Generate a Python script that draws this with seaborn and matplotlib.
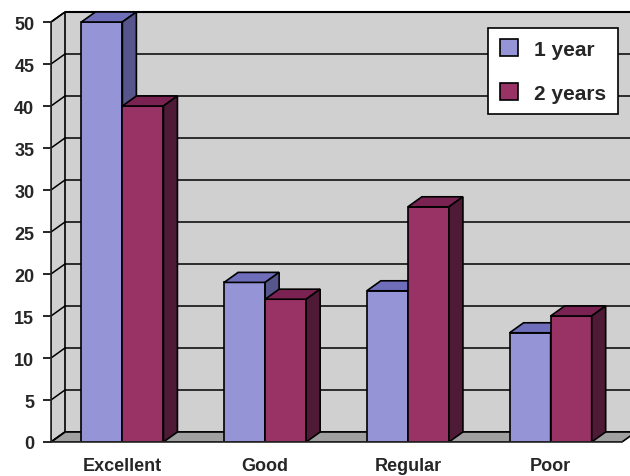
import pandas as pd
import numpy as np
import matplotlib
matplotlib.use("Agg")
import matplotlib.pyplot as plt
from matplotlib.patches import Polygon
import seaborn as sns

categorias = ["Excellent", "Good", "Regular", "Poor"]
series = ["1 year", "2 years"]
um_ano = [50, 19, 18, 13]
dois_anos = [40, 17, 28, 15]

df = pd.DataFrame({
    "categoria": categorias * 2,
    "serie": [series[0]] * 4 + [series[1]] * 4,
    "valor": um_ano + dois_anos,
})

sns.set_style("white")
plt.rcParams["font.family"] = ["Liberation Sans", "DejaVu Sans"]
plt.rcParams["font.weight"] = "bold"

fig = plt.figure(figsize=(6.3, 4.77), dpi=100)
# front plane 51..622 px, 0 at y=443, 50 at y=24; back wall shifted by 14 px / 10 px
px_cat = (622 - 51) / 4
px_val = (443 - 24) / 50
dx = 14 / px_cat
dy = 10 / px_val
ax = fig.add_axes([51 / 630, 34 / 477, (636 - 51) / 630, (443 - 13) / 477])

frente = ["#9494D6", "#993366"]
topo = ["#6E6EBA", "#7A2352"]
lado = ["#56568C", "#4E1A36"]

# paredes
x0, x1, ymax = -0.5, 3.5, 50
ax.add_patch(Polygon([(x0 + dx, dy), (x1 + dx, dy), (x1 + dx, ymax + dy), (x0 + dx, ymax + dy)],
                     closed=True, facecolor="#D0D0D0", edgecolor="none", zorder=0))
ax.add_patch(Polygon([(x0, 0), (x0 + dx, dy), (x0 + dx, ymax + dy), (x0, ymax)],
                     closed=True, facecolor="#D0D0D0", edgecolor="black", lw=1.2, zorder=0.5))
ax.add_patch(Polygon([(x0, 0), (x1, 0), (x1 + dx, dy), (x0 + dx, dy)],
                     closed=True, facecolor="#A0A0A0", edgecolor="black", lw=1.2, zorder=0.6))
for v in range(0, 51, 5):
    ax.plot([x0 + dx, x1 + dx], [v + dy, v + dy], color="black", lw=1.1, zorder=0.4)
    ax.plot([x0, x0 + dx], [v, v + dy], color="black", lw=1.1, zorder=0.7)

sns.barplot(data=df, x="categoria", y="valor", hue="serie", palette=frente, saturation=1,
            width=0.575, edgecolor="black", linewidth=1.2, ax=ax, zorder=2, legend=True)

# faces 3D das barras
for k, cont in enumerate(ax.containers):
    for j, p in enumerate(cont.patches):
        bx, bw, bh = p.get_x(), p.get_width(), p.get_height()
        p.set_zorder(2 + j * 0.1 + k * 0.05)
        z = p.get_zorder() + 0.01
        ax.add_patch(Polygon([(bx, bh), (bx + bw, bh), (bx + bw + dx, bh + dy), (bx + dx, bh + dy)],
                             closed=True, facecolor=topo[k], edgecolor="black", lw=1.2, zorder=z))
        ax.add_patch(Polygon([(bx + bw, 0), (bx + bw + dx, dy), (bx + bw + dx, bh + dy), (bx + bw, bh)],
                             closed=True, facecolor=lado[k], edgecolor="black", lw=1.2, zorder=z))

n = len(categorias)
ax.set_xlim(x0, x1 + dx)
ax.set_ylim(0, ymax + dy)
ax.set_yticks(range(0, 51, 5))
ax.set_yticklabels([str(v) for v in range(0, 51, 5)], fontsize=13, fontweight="bold")
ax.set_xticks(range(n))
ax.set_xticklabels(categorias, fontsize=13, fontweight="bold")
ax.set_xticks(np.arange(-0.5, 4, 1), minor=True)
ax.tick_params(axis="x", which="major", length=0, pad=11)
ax.tick_params(axis="x", which="minor", length=6, width=1.2, color="black", direction="out")
ax.tick_params(axis="y", length=6, width=1.2, color="black", direction="out", pad=6, left=True)
ax.set_xlabel("")
ax.set_ylabel("")
for s in ["top", "right"]:
    ax.spines[s].set_visible(False)
ax.spines["left"].set_bounds(0, 50)
ax.spines["bottom"].set_bounds(x0, x1)
ax.spines["left"].set_linewidth(1.2)
ax.spines["bottom"].set_linewidth(1.2)
ax.spines["left"].set_zorder(3)
ax.spines["bottom"].set_zorder(3)
ax.plot([x0 + dx, x1 + dx], [ymax + dy, ymax + dy], color="black", lw=1.5, zorder=0.8, clip_on=False)

leg = ax.legend(loc="upper right", bbox_to_anchor=(618 / 630, 1 - 29 / 477),
                bbox_transform=fig.transFigure, frameon=True, fancybox=False,
                prop={"weight": "bold", "size": 15},
                handlelength=0.87, handleheight=0.87, labelspacing=1.15,
                borderpad=0.55, handletextpad=0.8, borderaxespad=0)
leg.get_frame().set_edgecolor("black")
leg.get_frame().set_linewidth(1.2)
leg.get_frame().set_alpha(1)
leg.set_zorder(10)

plt.savefig("out.png", dpi=100)
